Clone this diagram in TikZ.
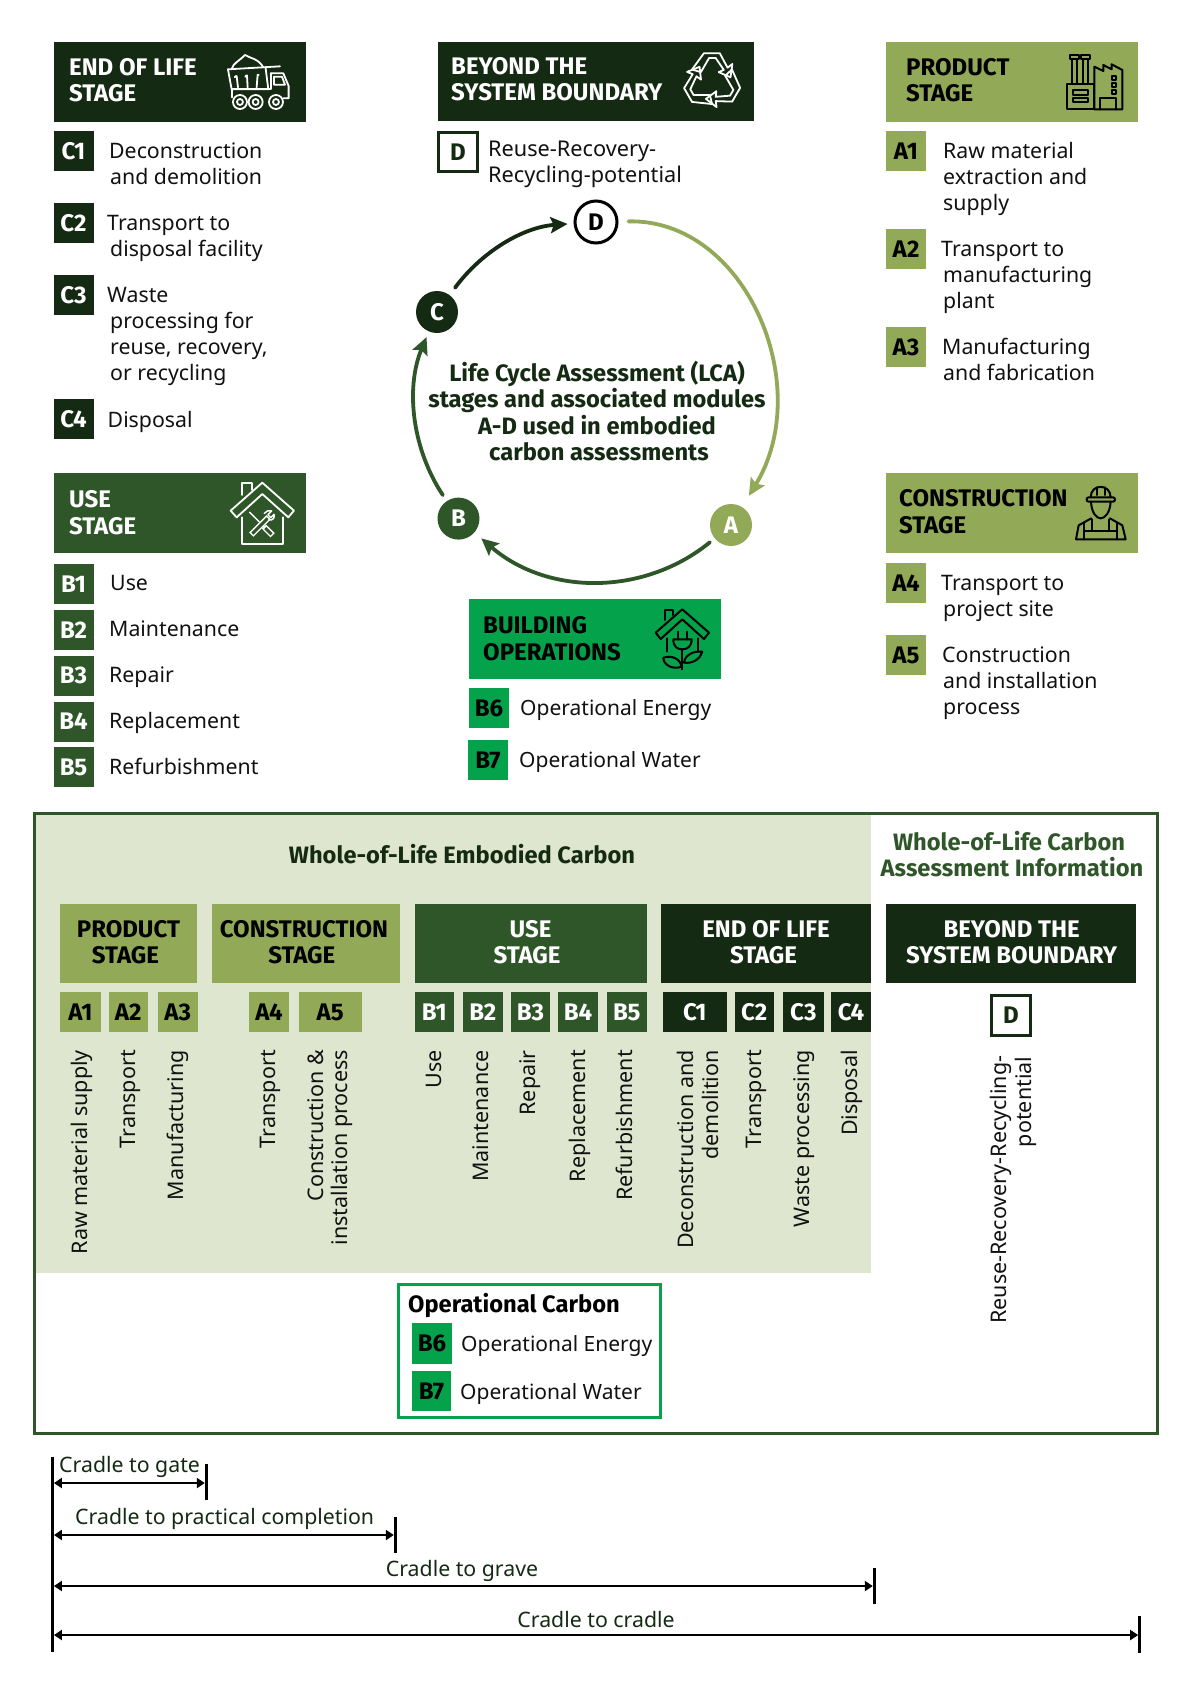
\documentclass[tikz,border=0pt]{standalone}
\usepackage{fontspec}
\usetikzlibrary{arrows.meta}
\setmainfont{Noto Sans}
\newfontfamily\hdfont{Fira Sans}
\definecolor{cdark}{HTML}{152A13}
\definecolor{cmid}{HTML}{2F5629}
\definecolor{colive}{HTML}{92A957}
\definecolor{cgreen}{HTML}{03A24B}
\definecolor{cpale}{HTML}{DFE6CF}
\definecolor{cink}{HTML}{111111}
\newcommand{\bdg}{\hdfont\bfseries\fontsize{24}{26}\selectfont}
\tikzset{
  flat/.style={inner sep=0pt,outer sep=0pt,draw=none},
  fdark/.style={flat,fill=cdark,text=white},
  fmid/.style={flat,fill=cmid,text=white},
  folive/.style={flat,fill=colive,text=black},
  fgreen/.style={flat,fill=cgreen,text=black},
  fline/.style={inner sep=0pt,outer sep=0pt,draw=cdark,line width=3pt,fill=white,text=cdark},
  hd/.style={inner sep=0pt,font=\hdfont\bfseries\fontsize{24}{26}\selectfont},
  hs/.style={inner sep=0pt,font=\hdfont\bfseries\fontsize{23.7}{26}\selectfont},
  bd/.style={inner sep=0pt,text=cink,yshift=-0.7pt,font=\fontsize{21.3}{26}\selectfont},
  bw/.style={inner sep=0pt,text=cink,yshift=-0.7pt,font=\fontsize{21.7}{26}\selectfont},
  bo/.style={inner sep=0pt,text=cink,yshift=-0.7pt,font=\fontsize{21}{26}\selectfont},
  rt/.style={inner sep=0pt,text=cink,rotate=90,anchor=mid east,font=\fontsize{21.5}{26}\selectfont},
  cr/.style={inner sep=0pt,text=cdark,font=\fontsize{21.3}{26}\selectfont},
  disc/.style={circle,inner sep=0pt,minimum size=42pt,font=\hdfont\bfseries\fontsize{24}{26}\selectfont},
  ring/.style={line width=3.8pt,line cap=round},
  dim/.style={line width=2.8pt,{Triangle[length=8pt,width=10pt]}-{Triangle[length=8pt,width=10pt]},shorten <=1.2pt,shorten >=1.2pt},
  tick/.style={line width=3pt,draw=black},
  icw/.style={draw=white,line width=1.8pt,line join=round,line cap=round},
  ick/.style={draw=black,line width=2pt,line join=round,line cap=round},
}
\newcommand{\Bx}[7]{%
  \pgfmathsetmacro\bW{#5-#3}\pgfmathsetmacro\bH{#6-#4}%
  \pgfmathsetmacro\bX{(#5+#3)/2}\pgfmathsetmacro\bY{(#6+#4)/2}%
  \node[#2,minimum width=\bW pt,minimum height=\bH pt] (#1) at (\bX,\bY) {#7};}
\newcommand{\Tx}[5]{\node[#2,anchor=base west] (#1) at (#3,#4) {#5};}
\newcommand{\Tc}[5]{\node[#2,anchor=base] (#1) at (#3,#4) {#5};}
\newcommand{\Rt}[4]{\pgfmathsetmacro\rX{#2+5.5}\node[rt] (#1) at (\rX,#3) {#4};}
\begin{document}
\begin{tikzpicture}[x=1pt,y=-1pt]
\useasboundingbox (0,0) rectangle (1192,1684);
\fill[white] (0,0) rectangle (1192,1684);

% END OF LIFE
\Bx{hC}{fdark}{53.5}{42}{305.5}{122}{}
\Tx{hC1}{hd,text=white}{69}{75}{END OF LIFE}
\Tx{hC2}{hd,text=white}{69}{101}{STAGE}
\begin{scope}[scale=0.3333]
 \draw[icw] (696,205) .. controls (700,190) and (715,185) .. (735,165) .. controls (750,175) and (775,175) .. (790,202);
 \draw[icw] (684,208) -- (840,199);
 \draw[icw] (684,208) -- (695,268) -- (805,268) -- (797,205);
 \draw[icw] (708,228) -- (704,232) (710,228) -- (714,262) (740,226) -- (736,230) (741,226) -- (743,262) (776,224) -- (772,228) (773,224) -- (770,262);
 \draw[icw] (812,220) -- (850,220) -- (866,258) -- (866,295) -- (850,295);
 \draw[icw] (822,230) -- (846,230) -- (855,254) -- (822,254) -- cycle;
 \draw[icw] (812,220) -- (812,268) -- (695,268) -- (695,292);
 \foreach \q in {720,767,828}{\draw[icw] (\q,306) circle[radius=21] (\q,306) circle[radius=9];}
\end{scope}
\Bx{c1}{fdark}{53.5}{131}{93.5}{171}{\bdg C1}
\Bx{c2}{fdark}{53.5}{203}{93.5}{243}{\bdg C2}
\Bx{c3}{fdark}{53.5}{275}{93.5}{315}{\bdg C3}
\Bx{c4}{fdark}{53.5}{399}{93.5}{439}{\bdg C4}
\Tx{tc1a}{bd}{109}{158}{Deconstruction}
\Tx{tc1b}{bd}{110}{184}{and demolition}
\Tx{tc2a}{bd}{107}{230}{Transport to}
\Tx{tc2b}{bd}{110}{256}{disposal facility}
\Tx{tc3a}{bd}{107}{302}{Waste}
\Tx{tc3b}{bd}{110}{328}{processing for}
\Tx{tc3c}{bd}{110}{354}{reuse, recovery,}
\Tx{tc3d}{bd}{110}{380}{or recycling}
\Tx{tc4}{bd}{107.5}{427}{Disposal}

% BEYOND
\Bx{hD}{fdark}{437.5}{42}{753.5}{121}{}
\Tx{hD1}{hd,text=white}{451}{74}{BEYOND THE}
\Tx{hD2}{hd,text=white}{451}{100}{SYSTEM BOUNDARY}
\begin{scope}[shift={(712,81)},scale=0.37]
 \foreach \a in {0,120,240}{
 \draw[icw,rotate=\a] (-54,-31)--(-22,-75)--(21,-75)--(42,-36)--(55,-46)--(50,-10)--(18,-24)--(32,-30)--(10,-62)--(-8,-62)--(-30,-24)--cycle;}
\end{scope}
\Bx{d0}{fline}{438.5}{132.5}{477.5}{171}{\bdg D}
\Tx{td1}{bw}{488}{156}{Reuse-Recovery-}
\Tx{td2}{bw}{488}{182}{Recycling-potential}

% PRODUCT
\Bx{hA}{folive}{886}{42}{1138}{122}{}
\Tx{hA1}{hd,text=black}{906}{75}{PRODUCT}
\Tx{hA2}{hd,text=black}{906}{101}{STAGE}
\begin{scope}[shift={(860,20)},scale=0.3333]
 \draw[ick] (622,192) rectangle (703,268);
 \draw[ick] (638,210) rectangle (685,224) (638,234) rectangle (685,246);
 \draw[ick] (630,105) rectangle (656,118) (663,105) rectangle (690,118);
 \draw[ick] (635,118) -- (635,192) (652,118) -- (652,192) (668,118) -- (668,192) (685,118) -- (685,192);
 \draw[ick] (703,268) -- (703,140) -- (730,153) -- (730,135) -- (755,148) -- (755,133) -- (787,150) -- (787,268) -- (703,268);
 \draw[ick] (720,268) -- (720,235) -- (767,235) -- (767,268);
 \draw[ick] (755,167) rectangle (767,179) (755,189) rectangle (767,201) (755,211) rectangle (767,223);
\end{scope}
\Bx{a1}{folive}{886}{131}{926}{171}{\bdg A1}
\Bx{a2}{folive}{886}{229}{926}{269}{\bdg A2}
\Bx{a3}{folive}{886}{327}{926}{367}{\bdg A3}
\Tx{ta1a}{bd}{943}{158}{Raw material}
\Tx{ta1b}{bd}{943}{184}{extraction and}
\Tx{ta1c}{bd}{943}{210}{supply}
\Tx{ta2a}{bd}{941}{256}{Transport to}
\Tx{ta2b}{bd}{943}{282}{manufacturing}
\Tx{ta2c}{bd}{943}{308}{plant}
\Tx{ta3a}{bd}{942}{354}{Manufacturing}
\Tx{ta3b}{bd}{943}{380}{and fabrication}

% USE
\Bx{hB}{fmid}{53.5}{473}{305.5}{553}{}
\Tx{hB1}{hd,text=white}{69}{507.5}{USE}
\Tx{hB2}{hd,text=white}{69}{534}{STAGE}
\begin{scope}[shift={(30,460)},scale=0.3333]
 \draw[icw] (602,152) -- (697,68) -- (792,152) -- (775,172) -- (697,102) -- (620,172) -- cycle;
 \draw[icw] (635,105) -- (635,70) -- (665,70) -- (665,90);
 \draw[icw] (635,172) -- (635,252) -- (760,252) -- (760,172);
 \draw[white,line width=1.5pt] (658,156) -- (702,200);
 \draw[white,line width=6pt] (702,200) -- (728,226);
 \draw[cmid,line width=3pt] (706,204) -- (725,223);
 \draw[white,line width=6pt] (664,224) -- (716,172);
 \draw[cmid,line width=3pt] (667,221) -- (713,175);
 \draw[icw,line width=1.5pt] (703,160) .. controls (708,152) and (718,150) .. (725,153) -- (714,164) -- (722,173) -- (732,163) .. controls (735,172) and (730,182) .. (716,180);
\end{scope}
\foreach \n/\p/\q in {b1/B1/564,b2/B2/610,b3/B3/655.5,b4/B4/701.5,b5/B5/747}{
 \pgfmathsetmacro\qq{\q+40}
 \Bx{\n}{fmid}{53.5}{\q}{93.5}{\qq}{\bdg \p}}
\Tx{tb1}{bd}{110}{590}{Use}
\Tx{tb2}{bd}{109}{636}{Maintenance}
\Tx{tb3}{bd}{109}{682}{Repair}
\Tx{tb4}{bd}{109}{728}{Replacement}
\Tx{tb5}{bd}{109}{774}{Refurbishment}

% CONSTRUCTION
\Bx{hE}{folive}{886}{473}{1138}{553}{}
\Tx{hE1}{hd,text=black}{899}{506.5}{CONSTRUCTION}
\Tx{hE2}{hd,text=black}{899}{533}{STAGE}
\begin{scope}[shift={(870,460)},scale=0.3333]
 \draw[ick,rounded corners=2pt] (650,112) rectangle (735,125);
 \draw[ick] (662,112) .. controls (662,70) and (722,70) .. (722,112);
 \draw[ick] (680,82) -- (680,105) (705,82) -- (705,105);
 \draw[ick] (663,125) .. controls (665,160) and (680,175) .. (692,175) .. controls (704,175) and (720,160) .. (722,125);
 \draw[ick] (618,238) -- (626,196) -- (664,175) (720,175) -- (757,196) -- (767,238) -- (618,238);
 \draw[ick] (642,188) -- (642,238) (742,188) -- (742,238) (665,178) -- (665,212) -- (718,212) -- (718,178) (642,212) -- (742,212);
\end{scope}
\Bx{a4}{folive}{886}{563}{926}{603}{\bdg A4}
\Bx{a5}{folive}{886}{635}{926}{675}{\bdg A5}
\Tx{ta4a}{bd}{941}{590}{Transport to}
\Tx{ta4b}{bd}{943}{616}{project site}
\Tx{ta5a}{bd}{942}{662}{Construction}
\Tx{ta5b}{bd}{943}{688}{and installation}
\Tx{ta5c}{bd}{943}{714}{process}

% BUILDING OPERATIONS
\Bx{hO}{fgreen}{469}{599}{721}{679}{}
\Tx{hO1}{hd,text=black}{483}{633.5}{BUILDING}
\Tx{hO2}{hd,text=black}{483}{660}{OPERATIONS}
\begin{scope}[shift={(450,590)},scale=0.3333]
 \draw[ick] (617,128) -- (697,58) -- (777,128) -- (762,147) -- (697,88) -- (632,147) -- cycle;
 \draw[ick] (645,90) -- (645,60) -- (670,60) -- (670,75);
 \draw[ick] (652,145) -- (652,185) (745,145) -- (745,185);
 \draw[ick] (685,125) -- (685,148) (710,125) -- (710,148);
 \draw[ick] (670,148) -- (725,148) .. controls (725,170) and (712,178) .. (697,178) .. controls (682,178) and (670,170) .. (670,148) -- cycle;
 \draw[ick] (697,178) -- (697,238);
 \draw[ick] (695,230) .. controls (690,205) and (665,195) .. (640,203) .. controls (640,225) and (668,240) .. (695,230) -- cycle;
 \draw[ick] (702,218) .. controls (705,195) and (730,182) .. (757,185) .. controls (752,205) and (730,222) .. (702,218) -- cycle;
\end{scope}
\Bx{b6}{fgreen}{469}{688}{509}{728}{\bdg B6}
\Bx{b7}{fgreen}{468}{740}{508}{780}{\bdg B7}
\Tx{tb6}{bo}{520}{715}{Operational Energy}
\Tx{tb7}{bo}{519}{767}{Operational Water}

% CYCLE
\node[disc,draw=black,line width=3pt,fill=white,text=black,minimum size=42pt] (D) at (596,222) {D};
\node[disc,fill=cdark,text=white] (C) at (437,312) {C};
\node[disc,fill=cmid,text=white] (B) at (458.5,518.6) {B};
\node[disc,fill=colive,text=white] (A) at (731,525) {A};
\coordinate (da1) at (746,219);
\coordinate (da2) at (816,386);
\coordinate (ab1) at (644.1,596);
\coordinate (ab2) at (547.4,595.7);
\coordinate (bc1) at (412.3,449.2);
\coordinate (bc2) at (405.2,388.2);
\coordinate (cd1) at (482.3,251);
\coordinate (cd2) at (523.6,227);
\draw[ring,colive,-{Stealth[length=17pt,width=16pt,inset=3pt]},shorten <=10pt,shorten >=13pt] (D) .. controls (da1) and (da2) .. (A);
\draw[ring,cmid,-{Stealth[length=17pt,width=16pt,inset=3pt]},shorten <=6pt,shorten >=9pt] (A) .. controls (ab1) and (ab2) .. (B);
\draw[ring,cmid,-{Stealth[length=17pt,width=16pt,inset=3pt]},shorten <=7pt,shorten >=6pt] (B) .. controls (bc1) and (bc2) .. (C);
\draw[ring,cdark,-{Stealth[length=17pt,width=16pt,inset=3pt]},shorten <=9pt,shorten >=6pt] (C) .. controls (cd1) and (cd2) .. (D);
\Tc{lc1}{hs,text=cdark}{597}{381}{Life Cycle Assessment (LCA)}
\Tc{lc2}{hs,text=cdark}{597}{407}{stages and associated modules}
\Tc{lc3}{hs,text=cdark}{597}{434}{A-D used in embodied}
\Tc{lc4}{hs,text=cdark}{599}{460}{carbon assessments}

% LOWER PANEL
\draw[cmid,line width=3pt] (34,813) rectangle (1157,1433);
\fill[cpale] (35.5,814.5) rectangle (871,1272.6);
\Tc{wl}{hs,text=cdark}{462}{863}{Whole-of-Life Embodied Carbon}
\Tc{wr1}{hs,text=cmid}{1009}{850}{Whole-of-Life Carbon}
\Tc{wr2}{hs,text=cmid}{1012}{876}{Assessment Information}

\Bx{H1}{folive}{60}{904}{196.5}{982.6}{}
\Bx{H2}{folive}{211.5}{904}{399.5}{982.6}{}
\Bx{H3}{fmid}{414.5}{904}{646.5}{982.6}{}
\Bx{H4}{fdark}{660.5}{904}{871}{982.6}{}
\Bx{H5}{fdark}{886}{904}{1136}{982.6}{}
\Tc{H1a}{hd,text=black}{128.5}{937}{PRODUCT}
\Tc{H1b}{hd,text=black}{125.5}{963}{STAGE}
\Tc{H2a}{hd,text=black}{304}{937}{CONSTRUCTION}
\Tc{H2b}{hd,text=black}{301.8}{963}{STAGE}
\Tc{H3a}{hd,text=white}{530.5}{937}{USE}
\Tc{H3b}{hd,text=white}{527}{963}{STAGE}
\Tc{H4a}{hd,text=white}{766}{937}{END OF LIFE}
\Tc{H4b}{hd,text=white}{763.5}{963}{STAGE}
\Tc{H5a}{hd,text=white}{1011.6}{937}{BEYOND THE}
\Tc{H5b}{hd,text=white}{1011.6}{963}{SYSTEM BOUNDARY}

\foreach \n/\p/\s/\l/\r in {
 k1/A1/folive/60/101,k2/A2/folive/108.5/148,k3/A3/folive/158/197.6,
 k4/A4/folive/249/289,k5/A5/folive/298.5/362,
 k6/B1/fmid/414.5/454,k7/B2/fmid/463/502.6,k8/B3/fmid/511/550,k9/B4/fmid/558/598,k10/B5/fmid/607/646.5,
 k11/C1/fdark/662.6/727,k12/C2/fdark/734.5/774,k13/C3/fdark/783/823.7,k14/C4/fdark/831/871}{
 \Bx{\n}{\s}{\l}{992}{\r}{1032}{\bdg \p}}
\Bx{k15}{fline}{991.5}{995.5}{1030.5}{1035.5}{\bdg D}

\Rt{r1}{79}{1050}{Raw material supply}
\Rt{r2}{127}{1050}{Transport}
\Rt{r3}{175}{1050}{Manufacturing}
\Rt{r4}{267}{1050}{Transport}
\Rt{r5a}{315}{1050}{Construction \&}
\Rt{r5b}{339}{1050}{installation process}
\Rt{r6}{433}{1050}{Use}
\Rt{r7}{480}{1050}{Maintenance}
\Rt{r8}{527}{1050}{Repair}
\Rt{r9}{577}{1050}{Replacement}
\Rt{r10}{624}{1050}{Refurbishment}
\Rt{r11a}{685}{1050}{Deconstruction and}
\Rt{r11b}{710}{1050}{demolition}
\Rt{r12}{753}{1050}{Transport}
\Rt{r13}{801}{1050}{Waste processing}
\Rt{r14}{849.5}{1050}{Disposal}
\Rt{r15a}{998}{1055.5}{Reuse-Recovery-Recycling-}
\Rt{r15b}{1023}{1056.5}{potential}

% OPERATIONAL CARBON
\draw[cgreen,line width=3pt,fill=white] (398,1284) rectangle (660.5,1417.6);
\Tx{oc}{hs,text=black}{408}{1312}{Operational Carbon}
\Bx{oc6}{fgreen}{412}{1323}{452}{1364}{\bdg B6}
\Bx{oc7}{fgreen}{412}{1371}{451}{1411}{\bdg B7}
\Tx{oc6t}{bo}{461}{1351}{Operational Energy}
\Tx{oc7t}{bo}{460}{1399}{Operational Water}

% CRADLE SPANS
\coordinate (st) at (52.7,1457);
\coordinate (sb) at (52.7,1652);
\draw[tick] (st) -- (sb);
\coordinate (g0) at (52.7,1483); \coordinate (g1) at (206,1483);
\coordinate (g1a) at (206,1464); \coordinate (g1b) at (206,1500);
\draw[tick] (g1a) -- (g1b);
\draw[dim] (g0) -- (g1);
\Tx{cg}{cr}{59}{1472}{Cradle to gate}
\coordinate (p0) at (52.7,1535); \coordinate (p1) at (395,1535);
\coordinate (p1a) at (395,1517); \coordinate (p1b) at (395,1553);
\draw[tick] (p1a) -- (p1b);
\draw[dim] (p0) -- (p1);
\Tx{cp}{cr}{75}{1524}{Cradle to practical completion}
\coordinate (r0) at (52.7,1586); \coordinate (r1) at (874,1586);
\coordinate (r1a) at (874,1568); \coordinate (r1b) at (874,1604);
\draw[tick] (r1a) -- (r1b);
\draw[dim] (r0) -- (r1);
\Tc{cgr}{cr}{462}{1576}{Cradle to grave}
\coordinate (c0) at (52.7,1635); \coordinate (c1) at (1139.4,1635);
\coordinate (c1a) at (1139.4,1616); \coordinate (c1b) at (1139.4,1653);
\draw[tick] (c1a) -- (c1b);
\draw[dim] (c0) -- (c1);
\Tc{ccr}{cr}{596}{1627}{Cradle to cradle}
\end{tikzpicture}
\end{document}
